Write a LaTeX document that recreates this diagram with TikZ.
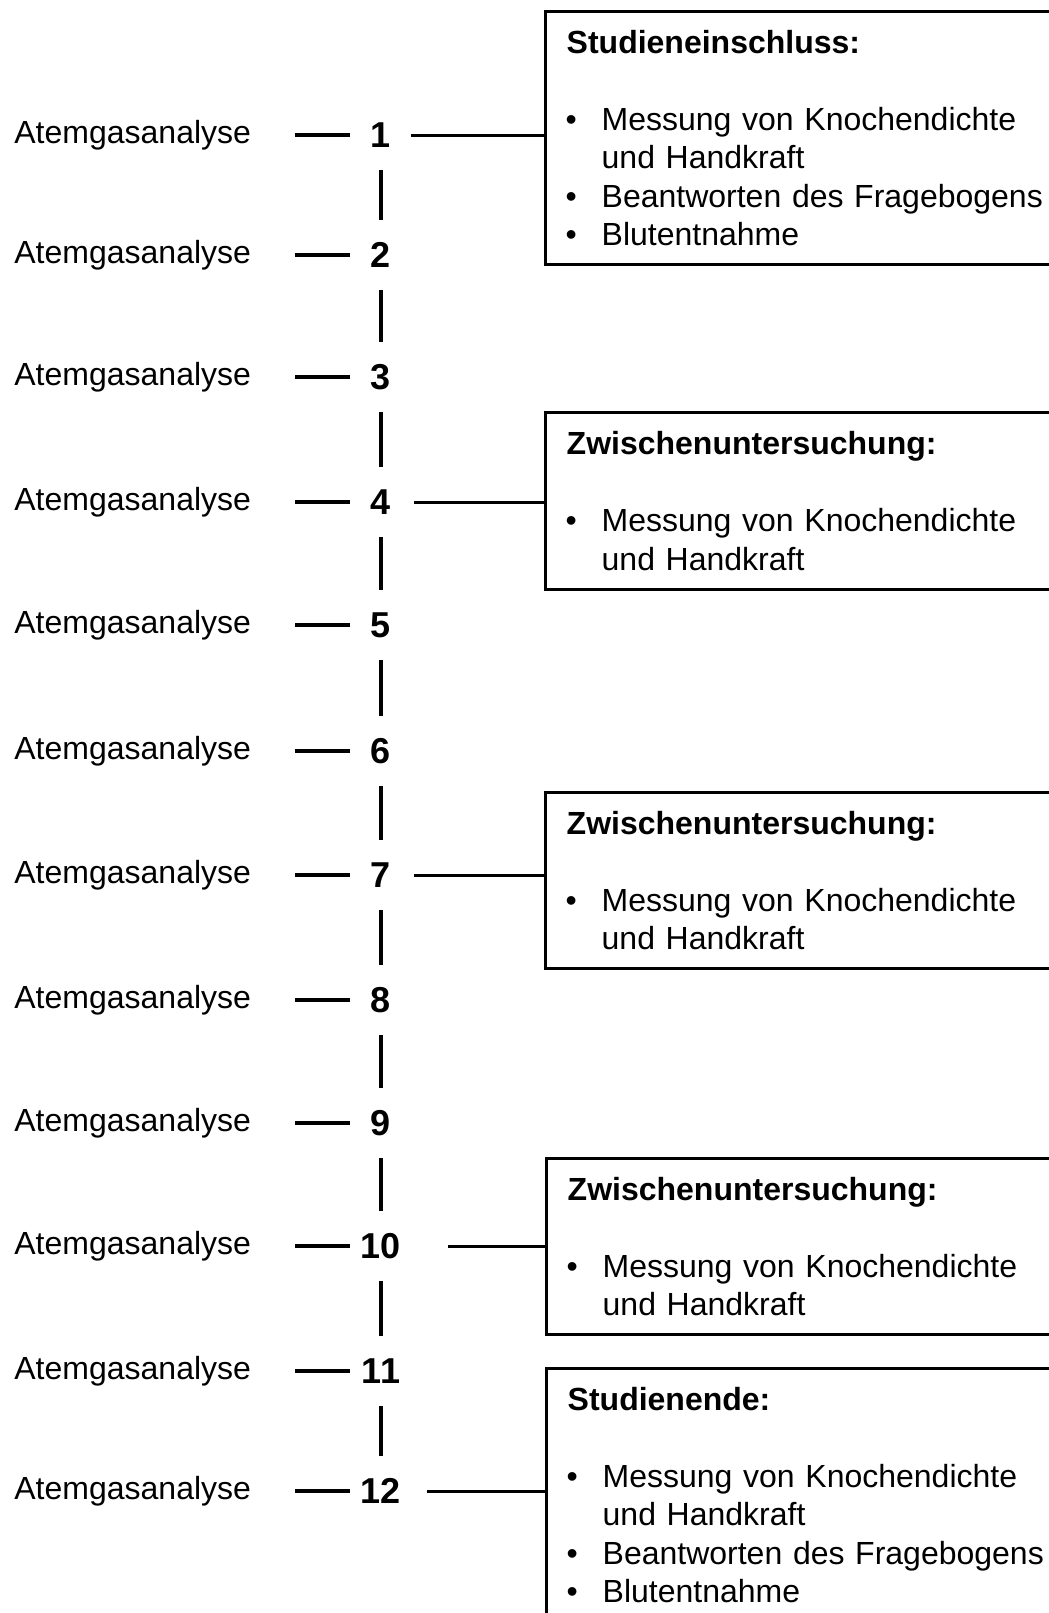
\documentclass[tikz,border=0pt]{standalone}
\usepackage{fontspec}
\setmainfont{Liberation Sans}
\usetikzlibrary{positioning}

\newcommand{\itm}{\makebox[17.5pt][l]{\hspace{-0.5pt}\textbullet}}
\newcommand{\hang}{\hspace*{17.5pt}}

\begin{document}
\begin{tikzpicture}[x=0.5pt, y=-0.5pt,
    every node/.style={font=\fontsize{16}{19.25}\selectfont},
    lab/.style={anchor=west, inner sep=0pt},
    num/.style={font=\fontsize{18}{20}\selectfont\bfseries, minimum width=20pt, minimum height=20pt, inner sep=0pt},
    box/.style={draw, line width=1.7pt, anchor=north west, align=left, text width=249pt, inner xsep=10.5pt, inner ysep=0pt, minimum width=270pt},
    tick/.style={line width=1.65pt, shorten <=22pt, shorten >=5.5pt},
    rail/.style={line width=1.65pt, shorten <=7.5pt, shorten >=7.5pt},
    link/.style={line width=1.5pt}
]
    \useasboundingbox (0,0) rectangle (1049,1613);
    \clip (0,0) rectangle (1049,1613);
    \foreach \i/\y in {1/135, 2/255, 3/377, 4/502, 5/625, 6/751, 7/875, 8/1000, 9/1123, 10/1246, 11/1371, 12/1491} {
        \node[lab] (lab\i) at (14,\y) {Atemgasanalyse};
        \node[num] (n\i) at (381,\y) {\i};
        \draw[tick] (lab\i) -- (n\i);
    }
    \foreach \i [evaluate=\i as \j using int(\i+1)] in {1,...,11}
        \draw[rail] (n\i.south) -- (n\j.north);

    \node[box, minimum height=126.5pt] (b1) at (544,10) {\textbf{Studieneinschluss:}\\[19.25pt]
        \itm Messung von Knochendichte\\ \hang und Handkraft\\ \itm Beantworten des Fragebogens\\ \itm Blutentnahme};
    \node[box, minimum height=88.5pt] (b2) at (544,411) {\textbf{Zwischenuntersuchung:}\\[19.25pt]
        \itm Messung von Knochendichte\\ \hang und Handkraft};
    \node[box, minimum height=88pt] (b3) at (544,791) {\textbf{Zwischenuntersuchung:}\\[19.25pt]
        \itm Messung von Knochendichte\\ \hang und Handkraft};
    \node[box, minimum height=88pt] (b4) at (545,1157) {\textbf{Zwischenuntersuchung:}\\[19.25pt]
        \itm Messung von Knochendichte\\ \hang und Handkraft};
    \node[box, minimum height=126.5pt] (b5) at (545,1367) {\textbf{Studienende:}\\[19.25pt]
        \itm Messung von Knochendichte\\ \hang und Handkraft\\ \itm Beantworten des Fragebogens\\ \itm Blutentnahme};

    \draw[link, shorten <=5pt] (n1.east) -- (n1 -| b1.west);
    \draw[link, shorten <=6.5pt] (n4.east) -- (n4 -| b2.west);
    \draw[link, shorten <=6.5pt] (n7.east) -- (n7 -| b3.west);
    \draw[link, shorten <=23.5pt] (n10.east) -- (n10 -| b4.west);
    \draw[link, shorten <=13pt] (n12.east) -- (n12 -| b5.west);
\end{tikzpicture}
\end{document}
